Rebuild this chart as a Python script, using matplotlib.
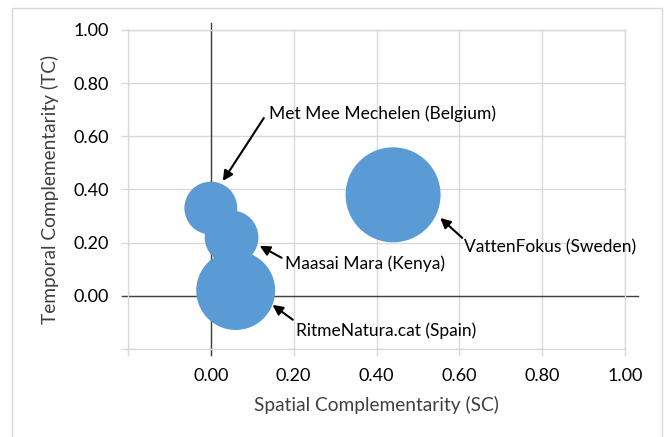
import matplotlib
matplotlib.use("Agg")
import matplotlib.pyplot as plt
from matplotlib.patches import Rectangle

# bubble data
names = ["Met Mee Mechelen (Belgium)", "Maasai Mara (Kenya)",
         "RitmeNatura.cat (Spain)", "VattenFokus (Sweden)"]
sc = [0.00, 0.05, 0.06, 0.44]
tc = [0.33, 0.22, 0.02, 0.38]
bubble = [0.31, 0.32, 0.69, 1.00]

# label text position and arrow tail / head (data units)
label_xy = [(0.14, 0.684), (0.178, 0.12), (0.205, -0.132), (0.612, 0.184)]
tail_xy = [(0.128, 0.669), (0.171, 0.143), (0.198, -0.09), (0.607, 0.218)]
head_xy = [(0.029, 0.432), (0.118, 0.188), (0.149, -0.034), (0.554, 0.293)]

ticks = [-0.2, 0.0, 0.2, 0.4, 0.6, 0.8, 1.0]

plt.rcParams['font.family'] = ['Lato', 'DejaVu Sans']
blue = '#5B9BD5'
grid = '#D9D9D9'
txt = '#404040'

fig = plt.figure(figsize=(6.65, 4.37), dpi=100)
fig.patches.append(Rectangle((12 / 665, -0.05), 650 / 665, 1.05 - 8 / 437,
                             transform=fig.transFigure, fill=False,
                             edgecolor=grid, linewidth=1))
ax = fig.add_axes([128 / 665, 1 - 349 / 437, 497 / 665, 319 / 437])

max_s = (95 * 0.72) ** 2
ax.scatter(sc, tc, s=[b * max_s for b in bubble], color=blue, zorder=3,
           linewidths=0)

ax.set_xlim(-0.2, 1.0)
ax.set_ylim(-0.2, 1.0)
ax.set_xticks(ticks)
ax.set_yticks(ticks)
lab = lambda v, p: '' if v < -0.1 else f'{v:.2f}'
ax.xaxis.set_major_formatter(lab)
ax.yaxis.set_major_formatter(lab)
ax.grid(True, color=grid, linewidth=1, zorder=0)
ax.set_axisbelow(True)
for s in ax.spines.values():
    s.set_color(grid)
    s.set_linewidth(1)
ax.tick_params(axis='both', colors=grid, length=5, width=1, labelsize=13,
               labelcolor='black')
ax.tick_params(axis='x', pad=9)
ax.tick_params(axis='y', pad=9)

# axis lines crossing at zero
ax.plot([-0.215, 1.031], [0, 0], color=txt, linewidth=1, clip_on=False, zorder=2)
ax.plot([0, 0], [-0.222, 1.026], color=txt, linewidth=1, clip_on=False, zorder=2)

ax.set_xlabel('Spatial Complementarity (SC)', fontsize=13.8, color=txt, labelpad=8)
ax.set_ylabel('Temporal Complementarity (TC)', fontsize=13.8, color=txt, labelpad=10)

for name, lxy, t, h in zip(names, label_xy, tail_xy, head_xy):
    ax.text(lxy[0], lxy[1], name, fontsize=12.5, ha='left', va='center',
            color='black', zorder=5)
    ax.annotate('', xy=h, xytext=t,
                arrowprops=dict(arrowstyle='-|>', color='black', lw=1.5,
                                mutation_scale=15, shrinkA=0, shrinkB=0),
                zorder=5)

fig.savefig('out.png', dpi=100)
